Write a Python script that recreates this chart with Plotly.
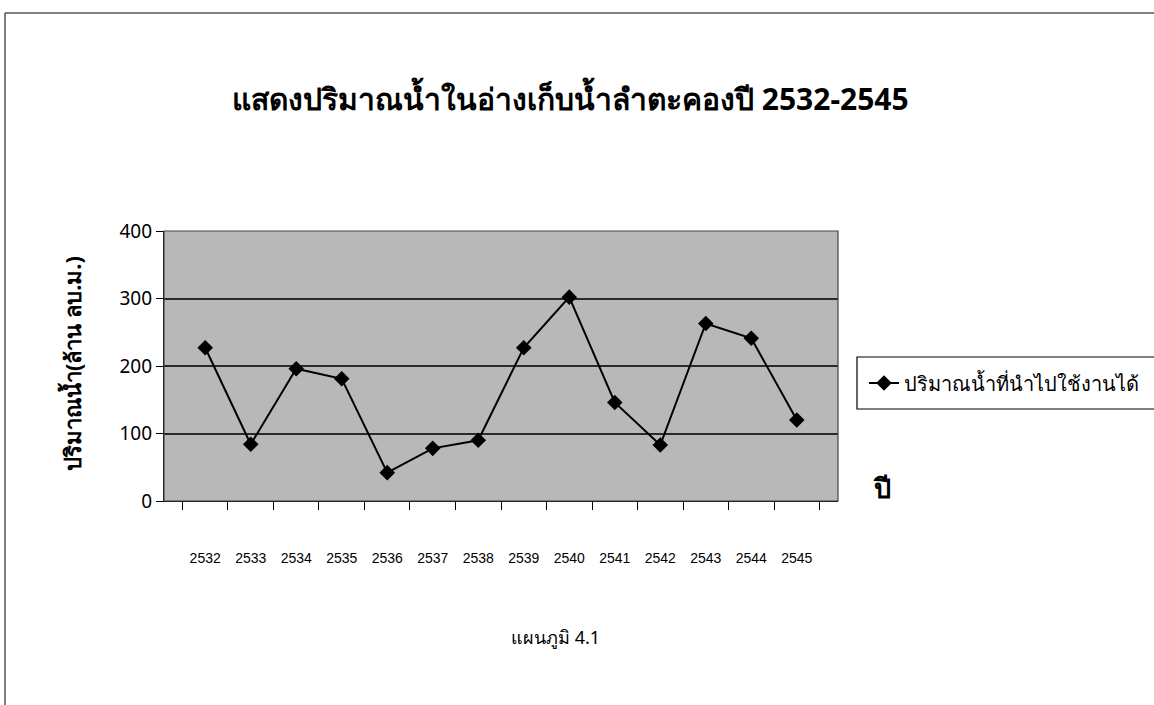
import plotly.graph_objects as go

years = ["2532", "2533", "2534", "2535", "2536", "2537", "2538",
         "2539", "2540", "2541", "2542", "2543", "2544", "2545"]
water = [227, 84, 196, 181, 42, 78, 90, 227, 302, 146, 83, 263, 241, 120]

series_name = "ปริมาณน้ำที่นำไปใช้งานได้"
title_text = "แสดงปริมาณน้ำในอ่างเก็บน้ำลำตะคองปี 2532-2545"
y_title = "ปริมาณน้ำ(ล้าน ลบ.ม.)"
x_title = "ปี"
caption = "แผนภูมิ 4.1"

W, H = 1154, 705
L, R, T, B = 164, 838, 231, 501  # plot area in screen pixels


def px(x):
    return (x - L) / (R - L)


def py(y):
    return (B - y) / (B - T)


FONT = "Noto Sans, DejaVu Sans, sans-serif"

fig = go.Figure()
fig.add_trace(go.Scatter(
    x=years, y=water, mode="lines+markers", name=series_name,
    line=dict(color="black", width=2),
    marker=dict(symbol="diamond", size=12, color="black"),
))

shapes = [
    dict(type="line", xref="paper", yref="paper", x0=px(5), x1=px(1160),
         y0=py(13), y1=py(13), line=dict(color="#555", width=1.5)),
    dict(type="line", xref="paper", yref="paper", x0=px(5), x1=px(5),
         y0=py(13), y1=py(710), line=dict(color="#555", width=1.5)),
    dict(type="rect", xref="paper", yref="paper", x0=0, x1=1, y0=0, y1=1,
         line=dict(color="#444", width=1.2), layer="above"),
    dict(type="rect", xref="paper", yref="paper", x0=px(857), x1=px(1170),
         y0=py(409), y1=py(357), line=dict(color="black", width=1.2),
         fillcolor="white", layer="below"),
]

annotations = [
    dict(text="<b>" + title_text + "</b>", x=px(570), y=py(98), xref="paper",
         yref="paper", showarrow=False, font=dict(size=30, color="black", family=FONT),
         xanchor="center", yanchor="middle"),
    dict(text="<b>" + y_title + "</b>", x=px(72), y=py(364), xref="paper",
         yref="paper", showarrow=False, textangle=-90,
         font=dict(size=22, color="black", family=FONT),
         xanchor="center", yanchor="middle"),
    dict(text="<b>" + x_title + "</b>", x=px(882), y=py(487), xref="paper",
         yref="paper", showarrow=False, font=dict(size=27, color="black", family=FONT),
         xanchor="center", yanchor="middle"),
    dict(text=caption, x=px(555), y=py(637), xref="paper", yref="paper",
         showarrow=False, font=dict(size=18, color="black", family=FONT),
         xanchor="center", yanchor="middle"),
]

fig.update_layout(
    width=W, height=H,
    margin=dict(l=L, r=W - R, t=T, b=H - B, pad=0),
    paper_bgcolor="white",
    plot_bgcolor="#b8b8b8",
    font=dict(family=FONT, color="black"),
    shapes=shapes,
    annotations=annotations,
    showlegend=True,
    legend=dict(xref="container", yref="container", x=864 / W,
                y=1 - 383 / H,
                xanchor="left", yanchor="middle", bgcolor="rgba(0,0,0,0)",
                borderwidth=0, font=dict(size=20, color="black", family=FONT)),
    xaxis=dict(type="category", tickson="boundaries", ticks="outside",
               ticklen=8, tickcolor="black", showline=True, linecolor="black",
               linewidth=1.2, showgrid=False, ticklabelstandoff=44,
               tickfont=dict(size=14, color="black",
                             family="Liberation Sans Narrow, Liberation Sans, sans-serif")),
    yaxis=dict(range=[0, 400], dtick=100, ticks="outside", ticklen=7,
               tickcolor="black", showline=True, linecolor="black", linewidth=1.2,
               showgrid=True, gridcolor="#2a2a2a", gridwidth=1.5, zeroline=False,
               tickfont=dict(size=19, color="black", family=FONT)),
)

fig.write_html("out.html", config={"displayModeBar": False},
               post_script="document.body.style.margin='0';")
